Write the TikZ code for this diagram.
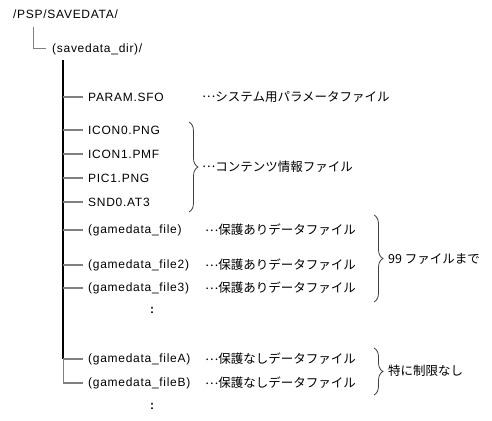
\documentclass[tikz,border=0pt]{standalone}
\usepackage{fontspec}
\setmainfont{Liberation Sans}[LetterSpace=6]
\newfontfamily\jp{Noto Sans CJK JP}
\newcommand\midell{\raisebox{0.3em}{…}}
\usetikzlibrary{decorations.pathreplacing}
\begin{document}
\begin{tikzpicture}[x=1pt,y=-1pt,
  lbl/.style={anchor=west,inner xsep=5pt,inner ysep=0pt,font=\fontsize{12}{14}\selectfont},
  desc/.style={anchor=west,inner sep=0pt,font=\jp\fontsize{12.5}{14}\selectfont},
  stub/.style={draw=gray,line width=1.5pt},
  trunk/.style={draw=black,line width=2.2pt},
  thin/.style={draw=gray,line width=1pt},
  brc/.style={draw=black!75,line width=0.8pt,decorate,decoration={brace,amplitude=9pt,aspect=0.5}},
  dots/.style={inner sep=0pt,font=\bfseries\fontsize{12}{14}\selectfont}]
\useasboundingbox (0,0) rectangle (492,420);
\fill[white] (0,0) rectangle (492,420);

\node[lbl,inner xsep=0pt] (root) at (13,14) {/PSP/SAVEDATA/};
\node[lbl,inner xsep=6pt] (dir) at (46,49) {(savedata\_dir)/};
\coordinate (rootc) at (33,27);
\draw[thin] (rootc) |- (dir.west);

\coordinate (t0) at (63,60);
\coordinate (tA) at (63,359);
\coordinate (tB) at (63,383);
\draw[trunk] (t0) -- (tA);
\draw[thin] (tA) -- (tB);

\foreach \n/\y/\t in {param/97/PARAM.SFO, icon0/130/ICON0.PNG, icon1/154/ICON1.PMF, pic1/178/PIC1.PNG, snd0/202/SND0.AT3,
  gf1/230/(gamedata\_file), gf2/265/(gamedata\_file2), gf3/288/(gamedata\_file3), gfA/359/(gamedata\_fileA), gfB/383/(gamedata\_fileB)}{
  \node[lbl] (\n) at (83,\y) {\t};
  \coordinate (s\n) at (63,\y);
  \draw[stub] (s\n) -- (\n.west);
}

\node[desc] (dparam) at (202,97) {\midell システム用パラメータファイル};
\node[desc] (dcont) at (202,167) {\midell コンテンツ情報ファイル};
\node[desc] (d1) at (205,230) {\midell 保護ありデータファイル};
\node[desc] (d2) at (205,265) {\midell 保護ありデータファイル};
\node[desc] (d3) at (205,288) {\midell 保護ありデータファイル};
\node[desc] (dA) at (205,359) {\midell 保護なしデータファイル};
\node[desc] (dB) at (205,383) {\midell 保護なしデータファイル};

\coordinate (b1t) at (189,122); \coordinate (b1b) at (189,212);
\draw[brc] (b1t) -- (b1b);
\coordinate (b2t) at (374,215); \coordinate (b2b) at (374,302);
\draw[brc] (b2t) -- (b2b);
\coordinate (b3t) at (374,348); \coordinate (b3b) at (374,395);
\draw[brc] (b3t) -- (b3b);

\node[desc] (n99) at (388,259) {99 ファイルまで};
\node[desc] (nfree) at (388,371) {特に制限なし};

\node[dots] (dot1) at (152,310) {:};
\node[dots] (dot2) at (152,406) {:};
\end{tikzpicture}
\end{document}
